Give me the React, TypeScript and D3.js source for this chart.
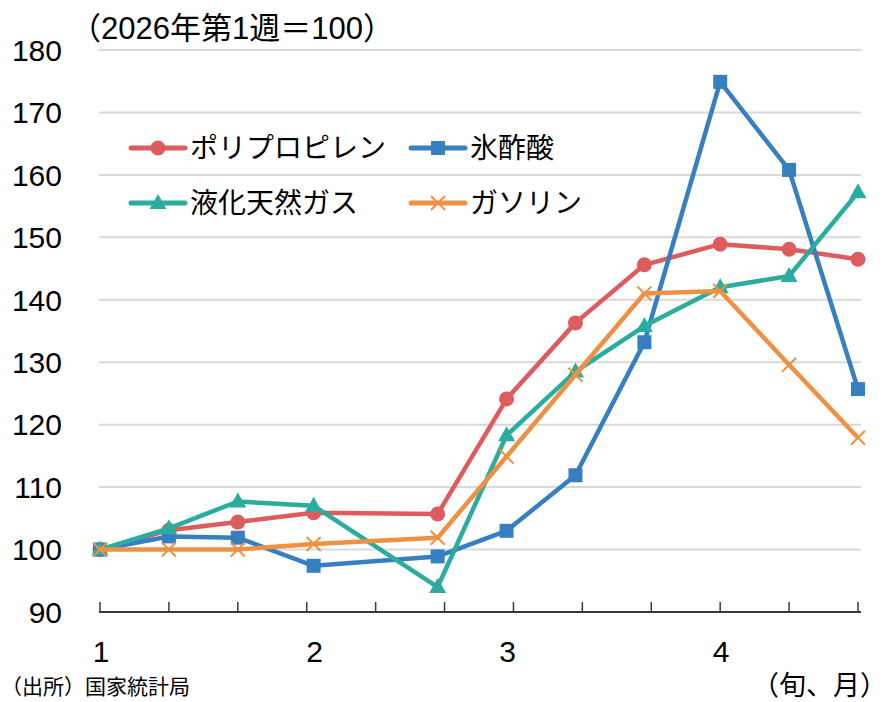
import React, { useEffect, useRef } from 'react';
import * as d3 from 'd3';

// 旬ごとの観測日（2026年）
const dates = [
  '2026-01-01', '2026-01-11', '2026-01-21', '2026-02-01', '2026-02-19',
  '2026-03-01', '2026-03-11', '2026-03-21', '2026-04-01', '2026-04-11', '2026-04-21',
];

const polypropylene = [100, 103.1, 104.4, 105.9, 105.7, 124.1, 136.3, 145.6, 148.9, 148.1, 146.5];
const aceticAcid = [100, 102.1, 101.9, 97.4, 98.9, 103.0, 111.9, 133.2, 174.9, 160.8, 125.7];
const lng = [100, 103.4, 107.7, 107.0, 94.0, 118.3, 128.5, 135.8, 142.0, 143.8, 157.2];
const gasoline = [100, 100, 100, 100.9, 101.9, 114.9, 128.0, 141.0, 141.4, 129.6, 117.9];

const yTicks = [90, 100, 110, 120, 130, 140, 150, 160, 170, 180];
const monthLabels = ['1', '2', '3', '4'];

const series = [
  { name: 'ポリプロピレン', values: polypropylene, color: '#de5b5e', marker: 'circle' },
  { name: '氷酢酸', values: aceticAcid, color: '#367fc0', marker: 'square' },
  { name: '液化天然ガス', values: lng, color: '#2aad9f', marker: 'triangle' },
  { name: 'ガソリン', values: gasoline, color: '#ef9142', marker: 'x' },
];

const FONT = '"Liberation Sans", Arial, "Noto Sans CJK JP", sans-serif';

export default function App() {
  const svgRef = useRef<SVGSVGElement | null>(null);

  useEffect(() => {
    if (!svgRef.current) return;
    const width = 889;
    const height = 702;
    const parse = d3.timeParse('%Y-%m-%d');
    const xs = dates.map(d => parse(d) as Date);
    const start = xs[0];
    const end = xs[xs.length - 1];

    const svg = d3.select(svgRef.current);
    svg.selectAll('*').remove();
    svg.attr('width', width).attr('height', height).style('font-family', FONT);

    const x = d3.scaleTime().domain([start, end]).range([100, 858]);
    const y = d3.scaleLinear().domain([90, 180]).range([612, 50]);
    const left = 99;
    const right = 861;

    // gridlines
    svg.append('g')
      .selectAll('line')
      .data(yTicks.filter(t => t > 90))
      .join('line')
      .attr('x1', left).attr('x2', right)
      .attr('y1', d => y(d)).attr('y2', d => y(d))
      .attr('stroke', '#d9d9d9')
      .attr('stroke-width', 2);

    // y labels
    svg.append('g')
      .selectAll('text')
      .data(yTicks)
      .join('text')
      .attr('x', 62)
      .attr('y', d => y(d))
      .attr('dy', '0.36em')
      .attr('text-anchor', 'end')
      .style('font-size', '30px')
      .attr('fill', '#000')
      .text(d => d);

    // x axis
    svg.append('line')
      .attr('x1', left).attr('x2', right)
      .attr('y1', y(90)).attr('y2', y(90))
      .attr('stroke', '#3a3a3a')
      .attr('stroke-width', 2);

    const tickDates = d3.range(0, 111, 10).map(n => d3.timeDay.offset(start, n));
    svg.append('g')
      .selectAll('line')
      .data(tickDates)
      .join('line')
      .attr('x1', d => x(d)).attr('x2', d => x(d))
      .attr('y1', y(90)).attr('y2', y(90) - 10)
      .attr('stroke', '#3a3a3a')
      .attr('stroke-width', 1.5);

    const months = d3.timeMonth.range(start, d3.timeDay.offset(end, 1));
    svg.append('g')
      .selectAll('text')
      .data(months)
      .join('text')
      .attr('x', d => x(d) + 1)
      .attr('y', 651)
      .attr('dy', '0.36em')
      .attr('text-anchor', 'middle')
      .style('font-size', '30px')
      .text((d, i) => monthLabels[i]);

    const drawMarker = (g: any, type: string, color: string, cx: number, cy: number) => {
      if (type === 'circle') {
        g.append('circle').attr('cx', cx).attr('cy', cy).attr('r', 7.5).attr('fill', color);
      } else if (type === 'square') {
        g.append('rect').attr('x', cx - 7).attr('y', cy - 7).attr('width', 14).attr('height', 14).attr('fill', color);
      } else if (type === 'triangle') {
        g.append('path')
          .attr('d', `M${cx},${cy - 9}L${cx + 8.5},${cy + 6}L${cx - 8.5},${cy + 6}Z`)
          .attr('fill', color);
      } else {
        g.append('path')
          .attr('d', `M${cx - 7},${cy - 7}L${cx + 7},${cy + 7}M${cx - 7},${cy + 7}L${cx + 7},${cy - 7}`)
          .attr('stroke', color).attr('stroke-width', 2).attr('fill', 'none');
      }
    };

    const line = d3.line<number>()
      .x((d, i) => x(xs[i]))
      .y(d => y(d));

    series.forEach(s => {
      const g = svg.append('g');
      g.append('path')
        .attr('d', line(s.values))
        .attr('fill', 'none')
        .attr('stroke', s.color)
        .attr('stroke-width', 4.5)
        .attr('stroke-linejoin', 'round');
      s.values.forEach((v, i) => drawMarker(g, s.marker, s.color, x(xs[i]), y(v)));
    });

    // legend
    const legendPos = [
      { lx: 131, ly: 148 },
      { lx: 411, ly: 148 },
      { lx: 131, ly: 203 },
      { lx: 411, ly: 203 },
    ];
    series.forEach((s, i) => {
      const { lx, ly } = legendPos[i];
      const g = svg.append('g');
      g.append('line')
        .attr('x1', lx).attr('x2', lx + 54)
        .attr('y1', ly).attr('y2', ly)
        .attr('stroke', s.color).attr('stroke-width', 5)
        .attr('stroke-linecap', 'round');
      drawMarker(g, s.marker, s.color, lx + 27, ly);
      g.append('text')
        .attr('x', lx + 59)
        .attr('y', ly)
        .attr('dy', '0.36em')
        .style('font-size', '28px')
        .text(s.name);
    });

    // titles and notes
    svg.append('text')
      .attr('x', 70).attr('y', 28).attr('dy', '0.36em')
      .style('font-size', '31px')
      .text('（2026年第1週＝100）');

    svg.append('text')
      .attr('x', 1).attr('y', 686).attr('dy', '0.36em')
      .style('font-size', '21px')
      .text('（出所）国家統計局');

    svg.append('text')
      .attr('x', 887).attr('y', 685).attr('dy', '0.36em')
      .attr('text-anchor', 'end')
      .style('font-size', '27px')
      .text('（旬、月）');
  }, []);

  return (
    <svg
      ref={svgRef}
      style={{ position: 'absolute', left: 0, top: 0, background: '#fff', display: 'block' }}
    />
  );
}
